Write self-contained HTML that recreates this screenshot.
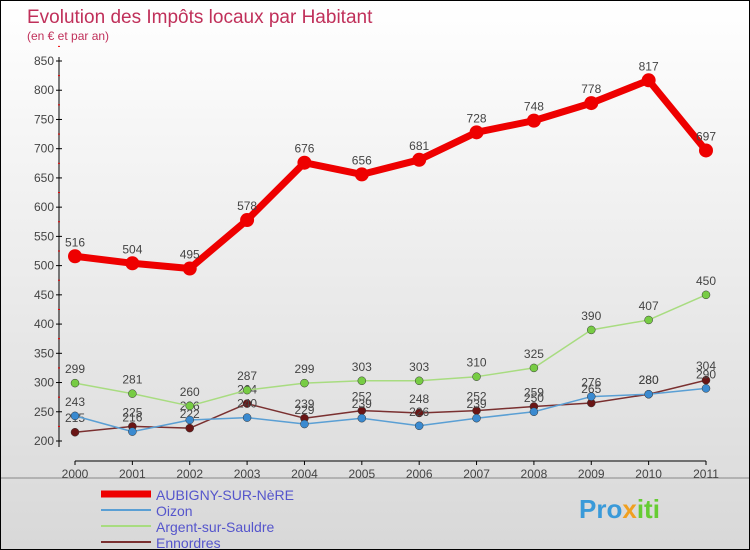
<!DOCTYPE html>
<html><head><meta charset="utf-8"><style>
body{margin:0}
#c{width:748px;height:548px;border:1px solid #000;background:linear-gradient(#fff,#d8d8d8);position:relative;font-family:"Liberation Sans",sans-serif;overflow:hidden}
</style></head><body>
<div id="c">
<svg width="748" height="548" id="s">
<text x="26" y="22" font-size="19" fill="#c0305a">Evolution des Impôts locaux par Habitant</text>
<text x="26" y="39" font-size="12" fill="#c0305a">(en € et par an)</text>
<line x1="0" y1="477" x2="748" y2="477" stroke="#888"/>
<text x="578" y="517" font-size="26" font-weight="bold" fill="#3a9ad9">Pro<tspan fill="#f0a020">x</tspan><tspan fill="#6c3">iti</tspan></text>
</svg>
</div>
<script>
const years=['2000','2001','2002','2003','2004','2005','2006','2007','2008','2009','2010','2011'];
const yTicks=[200,250,300,350,400,450,500,550,600,650,700,750,800,850];
const aubigny=[516,504,495,578,676,656,681,728,748,778,817,697];
const oizon=[243,216,236,240,229,239,226,239,250,276,280,290];
const argent=[299,281,260,287,299,303,303,310,325,390,407,450];
const ennordres=[215,225,222,264,239,252,248,252,259,265,280,304];
const seriesNames=['AUBIGNY-SUR-NèRE','Oizon','Argent-sur-Sauldre','Ennordres'];
const NS='http://www.w3.org/2000/svg',s=document.getElementById('s');
const X=i=>74+i*(705-74)/11, Y=v=>440-(v-200)*(440-60)/650;
function el(t,a,p){const e=document.createElementNS(NS,t);for(const k in a)e.setAttribute(k,a[k]);(p||s).appendChild(e);return e;}
let ax=el('line',{x1:58,y1:56,x2:58,y2:446,stroke:'#000'});


let xa=el('line',{x1:74,y1:460,x2:705,y2:460,stroke:'#000'});


yTicks.forEach(v=>{el('line',{x1:55,y1:Y(v),x2:61,y2:Y(v),stroke:'#000'});
el('line',{x1:57,y1:Y(v+25),x2:59,y2:Y(v+25),stroke:'#e00'});
const t=el('text',{x:53,y:Y(v)+4,'font-size':12,fill:'#444','text-anchor':'end'});t.textContent=v;

});
years.forEach((y,i)=>{el('line',{x1:X(i),y1:460,x2:X(i),y2:464,stroke:'#000'});
const t=el('text',{x:X(i),y:477,'font-size':12,fill:'#444','text-anchor':'middle'});t.textContent=y;

});
const defs=[[aubigny,'#e00','#e00',7,7],[oizon,'#5a9fd4','#3a8ad0',1.5,4],[argent,'#a8dc80','#7c4',1.5,4],[ennordres,'#7a3030','#6a1515',1.5,4]];
[3,1,2,0].forEach(k=>{const [d,lc,pc,w,r]=defs[k];
const g=el('g',{});
const p=el('polyline',{points:d.map((v,i)=>X(i)+','+Y(v)).join(' '),fill:'none',stroke:lc,'stroke-width':w,'stroke-linejoin':'round'},g);


d.forEach((v,i)=>{const c=el('circle',{cx:X(i),cy:Y(v),r:r,fill:pc,stroke:k?'#333':'none','stroke-width':0.5},g);


const t=el('text',{x:X(i),y:Y(v)-10,'font-size':12,fill:'#444','text-anchor':'middle'},g);t.textContent=v;

});});
seriesNames.forEach((n,k)=>{const y=493+k*16;
const l=el('line',{x1:100,y1:y,x2:150,y2:y,stroke:defs[k][1],'stroke-width':k?2:7});


const t=el('text',{x:155,y:y+6,'font-size':14,fill:'#55c'});t.textContent=n;

});
</script>
</body></html>
